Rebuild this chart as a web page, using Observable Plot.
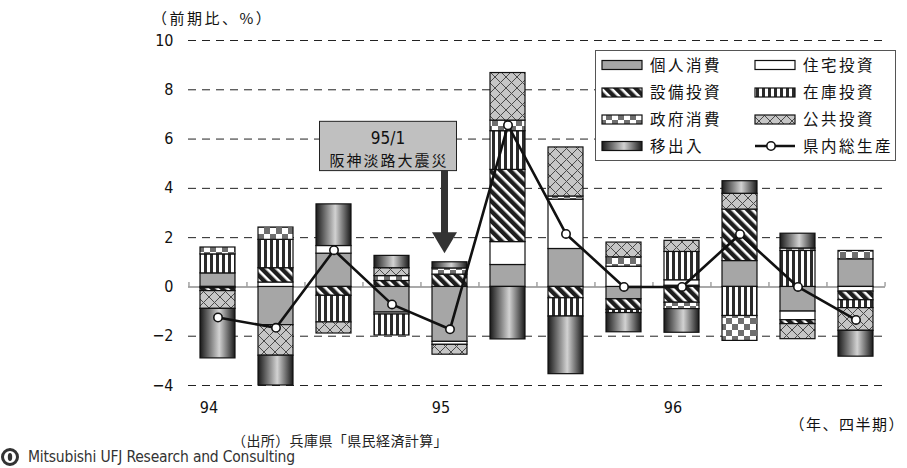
<!DOCTYPE html>
<html lang="ja">
<head>
<meta charset="utf-8">
<script src="https://cdn.jsdelivr.net/npm/d3@7"></script>
<script src="https://cdn.jsdelivr.net/npm/@observablehq/plot@0.6"></script>
<style>
  body { margin: 0; background: #fff; }
  #chart { position: relative; width: 907px; height: 468px; overflow: hidden; }
  #chart svg.plot text { fill: #111; }
  .jp { font-family: "Noto Sans CJK JP", "Noto Sans", sans-serif; }
  #source { position: absolute; left: 232px; top: 430px; font-size: 14px; letter-spacing: 0.4px; color: #222; }
  #brand { position: absolute; left: 0; top: 447px; height: 20px; display: flex; align-items: center; }
  #brand span { font-family: "Liberation Sans Narrow", "DejaVu Sans Condensed", sans-serif; font-size: 15.5px; color: #333; letter-spacing: -0.2px; margin-left: 6px; }
</style>
</head>
<body>
<!-- Fill patterns for the demand components -->
<svg width="0" height="0" style="position:absolute">
  <defs>
    <pattern id="pat-setsubi" patternUnits="userSpaceOnUse" width="7" height="7" patternTransform="rotate(-45)">
      <rect width="7" height="7" fill="#fff"/>
      <rect width="4.4" height="7" fill="#1e1e1e"/>
    </pattern>
    <pattern id="pat-zaiko" patternUnits="userSpaceOnUse" width="6" height="6">
      <rect width="6" height="6" fill="#fff"/>
      <rect width="3" height="6" fill="#2b2b2b"/>
    </pattern>
    <pattern id="pat-seifu" patternUnits="userSpaceOnUse" width="12" height="12">
      <rect width="12" height="12" fill="#fff"/>
      <rect width="6" height="6" fill="#6e6e6e"/>
      <rect x="6" y="6" width="6" height="6" fill="#6e6e6e"/>
    </pattern>
    <pattern id="pat-kokyo" patternUnits="userSpaceOnUse" width="11" height="11">
      <rect width="11" height="11" fill="#c6c6c6"/>
      <path d="M-1,-1L12,12M12,-1L-1,12" stroke="#4a4a4a" stroke-width="1"/>
    </pattern>
    <linearGradient id="grad-ishutsu" x1="0" x2="1" y1="0" y2="0">
      <stop offset="0" stop-color="#1a1a1a"/>
      <stop offset="0.55" stop-color="#d2d2d2"/>
      <stop offset="1" stop-color="#1a1a1a"/>
    </linearGradient>
  </defs>
</svg>

<div id="chart">
  <div id="source" class="jp">（出所）兵庫県「県民経済計算」</div>
  <div id="brand">
    <svg width="22" height="20"><circle cx="10" cy="10" r="7.5" fill="none" stroke="#333" stroke-width="3"/><ellipse cx="10" cy="10" rx="2.2" ry="4" fill="#333"/></svg>
    <span>Mitsubishi UFJ Research and Consulting</span>
  </div>
</div>

<script>
// Quarters 1994Q1 – 1996Q4
const quarters = ["94/1", "94/2", "94/3", "94/4", "95/1", "95/2", "95/3", "95/4", "96/1", "96/2", "96/3", "96/4"];
const yearLabels = {"94/1": "94", "95/1": "95", "96/1": "96"};

// Contributions to quarter-on-quarter growth (percentage points)
const seriesNames = ["個人消費", "住宅投資", "設備投資", "在庫投資", "政府消費", "公共投資", "移出入"];
const kojin   = [0.55, -1.55, 1.35, -1.04, -2.23, 0.89, 1.54, -0.50, 0.05, 1.05, -1.00, 1.12];
const jutaku  = [-0.05, 0.18, 0.31, -0.08, -0.12, 0.93, 2.00, 0.82, 0.22, 0.00, -0.35, -0.19];
const setsubi = [-0.12, 0.58, -0.36, 0.24, 0.50, 2.93, -0.46, -0.43, -0.64, 2.09, -0.16, -0.35];
const zaiko   = [0.77, 1.15, -1.08, -0.85, 0.00, 1.57, -0.74, -0.13, 1.15, -1.18, 1.46, -0.32];
const seifu   = [0.28, 0.50, 0.00, 0.20, 0.25, 0.43, 0.13, 0.38, -0.26, -1.01, 0.10, 0.34];
const kokyo   = [-0.72, -1.24, -0.45, 0.32, -0.40, 1.93, 1.99, 0.60, 0.45, 0.64, -0.61, -0.92];
const ishutsu = [-2.01, -1.21, 1.69, 0.50, 0.25, -2.13, -2.34, -0.78, -0.96, 0.51, 0.60, -1.05];

// Gross prefectural product growth (%)
const gdp = [-1.24, -1.66, 1.49, -0.71, -1.72, 6.56, 2.15, 0.00, 0.00, 2.14, 0.00, -1.34];

const yTicks = [-4, -2, 0, 2, 4, 6, 8, 10];
const fills = ["#a6a6a6", "#ffffff", "url(#pat-setsubi)", "url(#pat-zaiko)", "url(#pat-seifu)", "url(#pat-kokyo)", "url(#grad-ishutsu)"];

const seriesValues = [kojin, jutaku, setsubi, zaiko, seifu, kokyo, ishutsu];
const rows = [];
seriesNames.forEach((s, k) => quarters.forEach((q, i) => {
  const v = seriesValues[k][i];
  if (v !== 0) rows.push({quarter: q, series: s, value: v});
}));
const gdpRows = quarters.map((q, i) => ({quarter: q, value: gdp[i]}));

const W = 907, H = 430, ML = 188, MR = 22, MT = 40, MB = 45;
const padIn = 0.4, padOut = 0.2;
const step = (W - ML - MR) / (quarters.length - padIn + 2 * padOut);

const numFont = `"Liberation Sans Narrow", "DejaVu Sans Condensed", sans-serif`;

const plot = Plot.plot({
  width: W, height: H,
  marginLeft: ML, marginRight: MR, marginTop: MT, marginBottom: MB,
  x: {domain: quarters, paddingInner: padIn, paddingOuter: padOut, axis: null},
  y: {domain: [-4, 10], axis: null},
  color: {domain: seriesNames, range: fills},
  style: {fontFamily: numFont, fontSize: "16px", color: "#111", background: "transparent", overflow: "visible"},
  marks: [
    Plot.ruleY(yTicks.filter(d => d !== 0), {stroke: "#222", strokeWidth: 1, strokeDasharray: "8,6"}),
    Plot.ruleY([0], {stroke: "#8c8c8c", strokeWidth: 1.5}),
    Plot.ruleX(quarters, {x: d => d, y1: 0, y2: 0.18, stroke: "#8c8c8c", strokeWidth: 1.2, dx: -step / 2}),
    Plot.ruleX(quarters.slice(-1), {x: d => d, y1: 0, y2: 0.18, stroke: "#8c8c8c", strokeWidth: 1.2, dx: step / 2}),
    Plot.axisY(yTicks, {tickSize: 0, tickPadding: 15, label: null, tickFormat: d => d < 0 ? "−" + Math.abs(d) : String(d), fontSize: 16}),
    Plot.axisX(quarters, {tickSize: 0, tickPadding: 16, label: null, tickFormat: q => yearLabels[q] ?? "", dx: -9, fontSize: 16}),
    Plot.barY(rows, Plot.stackY({x: "quarter", y: "value", fill: "series", stroke: "#111", strokeWidth: 1.2})),
    Plot.line(gdpRows, {x: "quarter", y: "value", stroke: "#111", strokeWidth: 2.6}),
    Plot.dot(gdpRows, {x: "quarter", y: "value", r: 4.2, fill: "#fff", stroke: "#111", strokeWidth: 1.6})
  ]
});
plot.classList.add("plot");
plot.style.position = "absolute";
plot.style.left = "0";
plot.style.top = "0";
document.getElementById("chart").prepend(plot);

const svg = d3.select(plot);
const sx = plot.scale("x"), sy = plot.scale("y");
const jpFont = `"Noto Sans CJK JP", "Noto Sans", sans-serif`;

// Axis titles
svg.append("text").attr("x", 152).attr("y", 24).attr("text-anchor", "start").attr("font-family", jpFont).attr("font-size", 15)
  .attr("letter-spacing", 2.5).attr("fill", "#111").text("（前期比、%）");
svg.append("text").attr("x", 905).attr("y", 430).attr("text-anchor", "end").attr("font-family", jpFont)
  .attr("font-size", 15).attr("letter-spacing", 1.5).attr("fill", "#111").text("（年、四半期）");

// Earthquake annotation pointing at 1995 Q1
const quakeQuarter = "95/1", boxTopY = 6.7, boxBottomY = 4.7, arrowTipY = 1.35;
const ax = sx.apply(quakeQuarter) + sx.bandwidth / 2 - 5;
const bTop = sy.apply(boxTopY), bBot = sy.apply(boxBottomY), tip = sy.apply(arrowTipY);
const note = svg.append("g").attr("text-anchor", "middle");
note.append("rect").attr("x", ax - 125).attr("y", bTop).attr("width", 137).attr("height", bBot - bTop)
  .attr("fill", "#c0c0c0").attr("stroke", "#222").attr("stroke-width", 1);
note.append("text").attr("x", ax - 56.5).attr("y", bTop + 23)
  .attr("font-family", numFont).attr("font-size", 17).attr("fill", "#111").text("95/1");
note.append("text").attr("x", ax - 55.5).attr("y", bTop + 45)
  .attr("font-family", jpFont).attr("font-size", 15).attr("letter-spacing", 2).attr("fill", "#111").text("阪神淡路大震災");
note.append("rect").attr("x", ax - 3.5).attr("y", bBot).attr("width", 7).attr("height", tip - 20 - bBot).attr("fill", "#333");
note.append("path").attr("d", `M${ax - 12.5},${tip - 21}L${ax + 12.5},${tip - 21}L${ax},${tip}Z`).attr("fill", "#333");

// Legend
const lg = svg.append("g").attr("text-anchor", "start");
lg.append("rect").attr("x", 595.5).attr("y", 50.5).attr("width", 300).attr("height", 110)
  .attr("fill", "#fff").attr("stroke", "#555").attr("stroke-width", 1);
const rowY = [65, 92.5, 119.5, 146];
const legendItems = [
  {i: 0, col: 0, row: 0}, {i: 1, col: 1, row: 0},
  {i: 2, col: 0, row: 1}, {i: 3, col: 1, row: 1},
  {i: 4, col: 0, row: 2}, {i: 5, col: 1, row: 2},
  {i: 6, col: 0, row: 3}, {i: -1, col: 1, row: 3}
];
const colX = [602, 755];
for (const it of legendItems) {
  const x0 = colX[it.col], y0 = rowY[it.row];
  if (it.i >= 0) {
    lg.append("rect").attr("x", x0).attr("y", y0 - 4.5).attr("width", 40).attr("height", 9)
      .attr("fill", fills[it.i]).attr("stroke", "#111").attr("stroke-width", 1.2);
  } else {
    lg.append("line").attr("x1", x0).attr("x2", x0 + 40).attr("y1", y0).attr("y2", y0)
      .attr("stroke", "#111").attr("stroke-width", 2.6);
    lg.append("circle").attr("cx", x0 + 16).attr("cy", y0).attr("r", 4.2)
      .attr("fill", "#fff").attr("stroke", "#111").attr("stroke-width", 1.6);
  }
  lg.append("text").attr("x", x0 + 48).attr("y", y0 + 5.5).attr("font-family", jpFont).attr("font-size", 15.5)
    .attr("letter-spacing", 2.5).attr("fill", "#111").text(it.i >= 0 ? seriesNames[it.i] : "県内総生産");
}
</script>
</body>
</html>
